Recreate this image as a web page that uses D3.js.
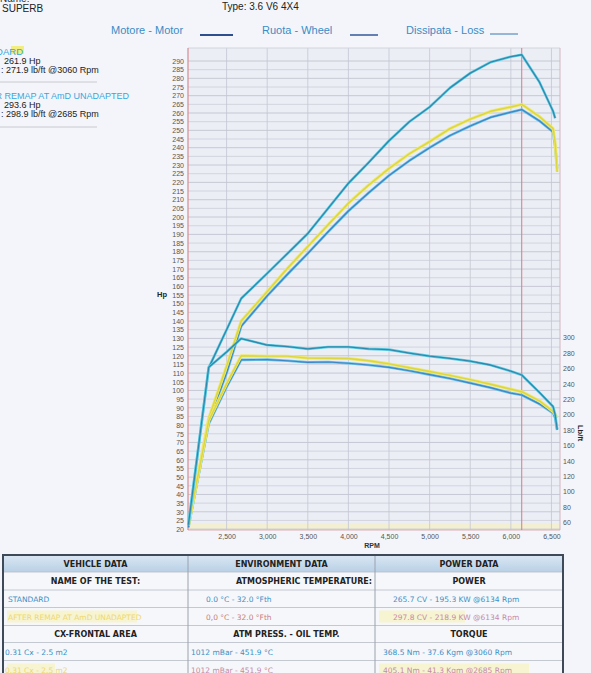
<!DOCTYPE html>
<html>
<head>
<meta charset="utf-8">
<script src="https://cdn.jsdelivr.net/npm/d3@7"></script>
<style>
  body { margin: 0; background: #f2f4f9; }
  svg { display: block; }
</style>
</head>
<body>
<script>
// Dyno run data
var rpm = [2030, 2280, 2500, 2680, 3000, 3250, 3500, 3750, 4000, 4250, 4500, 4750, 5000, 5250, 5500, 5750, 6000, 6134, 6350, 6520, 6545, 6570];

var powerRemap    = [22, 113, 135, 153, 167.5, 179, 190.5, 205, 219.5, 231.5, 244, 255, 263.5, 274.5, 283, 289.3, 292.5, 293.6, 278, 261, 257, null];
var torqueRemap   = [57, 261.5, 281.5, 298.9, 290.5, 288.5, 285.5, 288, 288, 285.5, 284.5, 280, 276, 273, 269.5, 264.5, 256.5, 251.5, 229, 210.5, 200, 181];
var powerYellow   = [22, 84, 114, 140, 157, 170.5, 183, 195.5, 208, 218.5, 228, 236.5, 243.5, 251, 256.5, 261, 263.5, 265, 258, 251, 243, 226];
var torqueYellow  = [57, 192, 240, 276.5, 276, 276, 273.5, 273.3, 273, 270, 266, 261, 256, 251, 245.5, 239.5, 233, 229.8, 218, 204, 200, 196];
var powerStandard = [21, 82, 110, 137, 154.5, 167, 179, 191.5, 203.5, 214, 224, 232.5, 240, 247, 252.5, 257.5, 260.5, 262, 255.5, 249, 241, 228];
var torqueStandard= [56, 188, 236, 271.2, 271.5, 270, 268, 268.4, 266.8, 264.5, 261.5, 257, 252, 247, 241, 235, 228, 225.5, 214, 202, 196, 180];

var peakRpm = 6134;

var hpTicks = d3.range(20, 295, 5);
var torqueTicks = d3.range(60, 301, 20);
var rpmTicks = [2500, 3000, 3500, 4000, 4500, 5000, 5500, 6000, 6500];

// table texts
var tableHeaders = ["VEHICLE DATA", "ENVIRONMENT DATA", "POWER DATA"];
var tableSub1 = ["NAME OF THE TEST:", "ATMOSPHERIC TEMPERATURE:", "POWER"];
var tableRowStd1 = ["STANDARD", "0.0 °C - 32.0 °Fth", "265.7 CV - 195.3 KW  @6134 Rpm"];
var tableRowMap1 = ["AFTER REMAP AT AmD UNADAPTED", "0,0 °C - 32.0 °Fth", "297.8 CV - 218.9 KW  @6134 Rpm"];
var tableSub2 = ["CX-FRONTAL AREA", "ATM PRESS. - OIL TEMP.", "TORQUE"];
var tableRowStd2 = ["0.31 Cx - 2.5 m2", "1012 mBar - 451.9 °C", "368.5 Nm - 37.6 Kgm  @3060 Rpm"];
var tableRowMap2 = ["0.31 Cx - 2.5 m2", "1012 mBar - 451.9 °C", "405.1 Nm - 41.3 Kgm  @2685 Rpm"];

var W = 591, H = 673;
var svg = d3.select("body").append("svg").attr("width", W).attr("height", H);
var font = "'Liberation Sans', Arial, sans-serif";
var tfont = "'DejaVu Sans', Verdana, sans-serif";

svg.append("rect").attr("width", W).attr("height", H).attr("fill", "#f3f5fa");

// plot frame
var plotLeft = 188, plotRight = 560, plotTop = 48, plotBottom = 530;
var x = d3.scaleLinear().domain([2025, 6605]).range([plotLeft, plotRight]);
var yHp = d3.scaleLinear().domain([19.5, 297.5]).range([plotBottom, plotTop]);
var yTq = d3.scaleLinear().domain([60, 300]).range([522.3, 337.7]);

svg.append("rect").attr("x", plotLeft).attr("y", plotTop)
    .attr("width", plotRight - plotLeft).attr("height", plotBottom - plotTop)
    .attr("fill", "#eceef6");

// faint band at the bottom
svg.append("rect").attr("x", plotLeft).attr("y", yHp(23.5))
    .attr("width", plotRight - plotLeft).attr("height", yHp(20) - yHp(23.5))
    .attr("fill", "#f3efd2");

// horizontal grid
svg.append("g").selectAll("line").data(hpTicks).join("line")
    .attr("x1", plotLeft).attr("x2", plotRight)
    .attr("y1", d => yHp(d)).attr("y2", d => yHp(d))
    .attr("stroke", d => d % 10 == 0 ? "#bcbfca" : "#cbced8")
    .attr("stroke-width", 0.8);

// vertical grid
svg.append("g").selectAll("line").data(rpmTicks).join("line")
    .attr("x1", d => x(d)).attr("x2", d => x(d))
    .attr("y1", plotTop).attr("y2", plotBottom)
    .attr("stroke", "#c4c6d0").attr("stroke-width", 0.8);

// frame borders
svg.append("line").attr("x1", plotLeft).attr("x2", plotRight).attr("y1", plotTop).attr("y2", plotTop)
    .attr("stroke", "#d2d4dc");
svg.append("line").attr("x1", plotRight).attr("x2", plotRight).attr("y1", plotTop).attr("y2", plotBottom)
    .attr("stroke", "#d6b4bc");
svg.append("line").attr("x1", plotLeft).attr("x2", plotRight).attr("y1", plotBottom).attr("y2", plotBottom)
    .attr("stroke", "#dcb0b8");
svg.append("line").attr("x1", plotLeft).attr("x2", plotLeft).attr("y1", plotTop).attr("y2", plotBottom)
    .attr("stroke", "#d88a90").attr("stroke-width", 1.2);

// peak marker
svg.append("line").attr("x1", x(peakRpm)).attr("x2", x(peakRpm))
    .attr("y1", plotTop).attr("y2", plotBottom)
    .attr("stroke", "#d57a88").attr("stroke-width", 1);

// Left axis (Hp)
var hpAxis = svg.append("g").attr("transform", "translate(" + (plotLeft - 3) + ",0)")
    .call(d3.axisLeft(yHp).tickValues(hpTicks).tickSize(0).tickPadding(1));
hpAxis.select(".domain").remove();
hpAxis.selectAll("text").attr("font-family", font).attr("font-size", "7px").attr("fill", "#555");

svg.append("text").attr("x", 157).attr("y", 297).text("Hp")
    .attr("font-family", font).attr("font-size", "7.5px").attr("font-weight", "bold").attr("fill", "#222");

// Right axis (Lb/ft)
var tqAxis = svg.append("g").attr("transform", "translate(" + (plotRight + 2) + ",0)")
    .call(d3.axisRight(yTq).tickValues(torqueTicks).tickSize(0).tickPadding(1));
tqAxis.select(".domain").remove();
tqAxis.selectAll("text").attr("font-family", font).attr("font-size", "7px").attr("fill", "#555");

svg.append("text").attr("transform", "translate(578,425) rotate(90)").text("Lb/ft")
    .attr("font-family", font).attr("font-size", "7.5px").attr("font-weight", "bold").attr("fill", "#222");

// Bottom axis (RPM)
var rpmAxis = svg.append("g").attr("transform", "translate(0," + (plotBottom + 2) + ")")
    .call(d3.axisBottom(x).tickValues(rpmTicks).tickSize(0).tickPadding(2).tickFormat(d3.format(",")));
rpmAxis.select(".domain").remove();
rpmAxis.selectAll("text").attr("font-family", font).attr("font-size", "7px").attr("fill", "#555");

svg.append("text").attr("x", 372).attr("y", 548).attr("text-anchor", "middle").text("RPM")
    .attr("font-family", font).attr("font-size", "7px").attr("font-weight", "bold").attr("fill", "#333");

// curves
function draw_curve(values, yScale, halo, core, haloWidth, coreWidth) {
    var pts = rpm.map((r, i) => [r, values[i]]);
    var gen = d3.line().defined(d => d[1] != null)
        .x(d => x(d[0])).y(d => yScale(d[1]));
    svg.append("path").datum(pts).attr("d", gen)
        .attr("fill", "none").attr("stroke", halo).attr("stroke-width", haloWidth)
        .attr("stroke-linejoin", "round");
    svg.append("path").datum(pts).attr("d", gen)
        .attr("fill", "none").attr("stroke", core).attr("stroke-width", coreWidth)
        .attr("stroke-linejoin", "round");
}

draw_curve(powerStandard, yHp, "#6cc0e8", "#3c86c4", 2.6, 1.2);
draw_curve(torqueStandard, yTq, "#6cc0e8", "#3c86c4", 2.6, 1.2);
draw_curve(powerYellow, yHp, "#eee86a", "#dcd640", 3, 1.4);
draw_curve(torqueYellow, yTq, "#eee86a", "#dcd640", 3, 1.4);
draw_curve(powerRemap, yHp, "#5fcce4", "#2e8aac", 2.6, 1.3);
draw_curve(torqueRemap, yTq, "#5fcce4", "#2e8aac", 2.6, 1.3);

// header texts
svg.append("text").attr("x", 0).attr("y", 2).text("Name:")
    .attr("font-family", font).attr("font-size", "10px").attr("fill", "#333");
svg.append("text").attr("x", 2).attr("y", 12).text("SUPERB")
    .attr("font-family", font).attr("font-size", "10px").attr("fill", "#222");
svg.append("text").attr("x", 222).attr("y", 10).text("Type: 3.6 V6 4X4")
    .attr("font-family", font).attr("font-size", "10px").attr("fill", "#222");

// legend
var legendColor = "#3a8cc6";
svg.append("text").attr("x", 111).attr("y", 34).text("Motore - Motor")
    .attr("font-family", font).attr("font-size", "11px").attr("fill", legendColor);
svg.append("line").attr("x1", 200).attr("x2", 233).attr("y1", 35).attr("y2", 35)
    .attr("stroke", "#2d4f8e").attr("stroke-width", 2);
svg.append("text").attr("x", 262).attr("y", 34).text("Ruota - Wheel")
    .attr("font-family", font).attr("font-size", "11px").attr("fill", legendColor);
svg.append("line").attr("x1", 350).attr("x2", 378).attr("y1", 35).attr("y2", 35)
    .attr("stroke", "#35589a").attr("stroke-width", 1.5);
svg.append("text").attr("x", 406).attr("y", 34).text("Dissipata - Loss")
    .attr("font-family", font).attr("font-size", "11px").attr("fill", legendColor);
svg.append("line").attr("x1", 490).attr("x2", 518).attr("y1", 34).attr("y2", 34)
    .attr("stroke", "#3a78b6").attr("stroke-width", 1);

// left summary block
svg.append("rect").attr("x", 11).attr("y", 46).attr("width", 13).attr("height", 8)
    .attr("fill", "#f0ec60").attr("opacity", 0.8);
svg.append("text").attr("x", 23).attr("y", 55).attr("text-anchor", "end").text("STANDARD")
    .attr("font-family", font).attr("font-size", "9.5px").attr("fill", "#3aa6da");
svg.append("text").attr("x", 4).attr("y", 64).text("261.9 Hp")
    .attr("font-family", font).attr("font-size", "9px").attr("fill", "#222");
svg.append("text").attr("x", 1).attr("y", 73).text(": 271.9 lb/ft @3060 Rpm")
    .attr("font-family", font).attr("font-size", "9px").attr("fill", "#222");
svg.append("line").attr("x1", 0).attr("x2", 97).attr("y1", 82).attr("y2", 82)
    .attr("stroke", "#c8cad0").attr("stroke-width", 1);
svg.append("text").attr("x", 129).attr("y", 99).attr("text-anchor", "end").text("AFTER REMAP AT AmD UNADAPTED")
    .attr("font-family", font).attr("font-size", "9px").attr("fill", "#3aa6da");
svg.append("text").attr("x", 4).attr("y", 108).text("293.6 Hp")
    .attr("font-family", font).attr("font-size", "9px").attr("fill", "#222");
svg.append("text").attr("x", 1).attr("y", 117).text(": 298.9 lb/ft @2685 Rpm")
    .attr("font-family", font).attr("font-size", "9px").attr("fill", "#222");
svg.append("line").attr("x1", 0).attr("x2", 97).attr("y1", 127).attr("y2", 127)
    .attr("stroke", "#c8cad0").attr("stroke-width", 1);

// table
var tx = [3, 188, 375, 563];
var ty = [555, 572, 590, 607.5, 625.5, 642.5, 660.5, 680];
var table = svg.append("g");

var grad = svg.append("defs").append("linearGradient").attr("id", "hdr")
    .attr("x1", 0).attr("x2", 0).attr("y1", 0).attr("y2", 1);
grad.append("stop").attr("offset", "0%").attr("stop-color", "#dae7f3");
grad.append("stop").attr("offset", "100%").attr("stop-color", "#b9d0e6");

table.append("rect").attr("x", tx[0]).attr("y", ty[0]).attr("width", tx[3] - tx[0]).attr("height", H - ty[0] + 5)
    .attr("fill", "#f6f7fa");
table.append("rect").attr("x", tx[0]).attr("y", ty[0]).attr("width", tx[3] - tx[0]).attr("height", ty[1] - ty[0])
    .attr("fill", "url(#hdr)");

// highlight behind remap rows
[[3, 0, 130], [3, 2, 86], [6, 0, 48], [6, 2, 150]].forEach(function (h) {
    table.append("rect").attr("x", tx[h[1]] + 4).attr("y", ty[h[0]] + 3)
        .attr("width", h[2]).attr("height", ty[h[0] + 1] - ty[h[0]] - 6)
        .attr("fill", "#f8f1b8").attr("opacity", 0.6);
});

// row lines
ty.slice(1, 7).forEach(function (yy) {
    table.append("line").attr("x1", tx[0]).attr("x2", tx[3]).attr("y1", yy).attr("y2", yy)
        .attr("stroke", "#b7bcc6").attr("stroke-width", 0.8);
});
tx.slice(1, 3).forEach(function (xx) {
    table.append("line").attr("x1", xx).attr("x2", xx).attr("y1", ty[0]).attr("y2", H)
        .attr("stroke", "#9aa2ae").attr("stroke-width", 1);
});
table.append("rect").attr("x", tx[0]).attr("y", ty[0]).attr("width", tx[3] - tx[0]).attr("height", H - ty[0] + 5)
    .attr("fill", "none").attr("stroke", "#3e4a58").attr("stroke-width", 2);

function cell_text(rowIdx, colIdx, txt, mode, color, bold, dx) {
    var x0 = tx[colIdx], x1 = tx[colIdx + 1];
    var xpos = mode == "middle" ? (x0 + x1) / 2 + (dx || 0) : mode == "end" ? x1 - 3 : x0 + (dx || 5);
    table.append("text").attr("x", xpos).attr("y", (ty[rowIdx] + ty[rowIdx + 1]) / 2 + 3)
        .attr("text-anchor", mode).text(txt)
        .attr("font-family", tfont).attr("font-size", bold ? "8px" : "7.5px")
        .attr("font-weight", bold ? "bold" : "normal").attr("fill", color);
}

var stdColor = "#3c8fc6", mapColor = "#c58aa6", mapColor0 = "#eed870", hdrColor = "#222";
tableHeaders.forEach((t, i) => cell_text(0, i, t, "middle", hdrColor, true));
cell_text(1, 0, tableSub1[0], "middle", hdrColor, true);
cell_text(1, 1, tableSub1[1], "end", hdrColor, true);
cell_text(1, 2, tableSub1[2], "middle", hdrColor, true);
cell_text(2, 0, tableRowStd1[0], "start", stdColor, false, 5);
cell_text(2, 1, tableRowStd1[1], "start", stdColor, false, 18);
cell_text(2, 2, tableRowStd1[2], "start", stdColor, false, 18);
cell_text(3, 0, tableRowMap1[0], "start", mapColor0, false, 5);
cell_text(3, 1, tableRowMap1[1], "start", "#c8807a", false, 18);
cell_text(3, 2, tableRowMap1[2], "start", mapColor, false, 18);
cell_text(4, 0, tableSub2[0], "middle", hdrColor, true);
cell_text(4, 1, tableSub2[1], "middle", hdrColor, true, 5);
cell_text(4, 2, tableSub2[2], "middle", hdrColor, true);
cell_text(5, 0, tableRowStd2[0], "start", stdColor, false, 2);
cell_text(5, 1, tableRowStd2[1], "start", stdColor, false, 3);
cell_text(5, 2, tableRowStd2[2], "start", stdColor, false, 8);
cell_text(6, 0, tableRowMap2[0], "start", mapColor0, false, 2);
cell_text(6, 1, tableRowMap2[1], "start", mapColor, false, 3);
cell_text(6, 2, tableRowMap2[2], "start", mapColor, false, 8);
</script>
</body>
</html>
